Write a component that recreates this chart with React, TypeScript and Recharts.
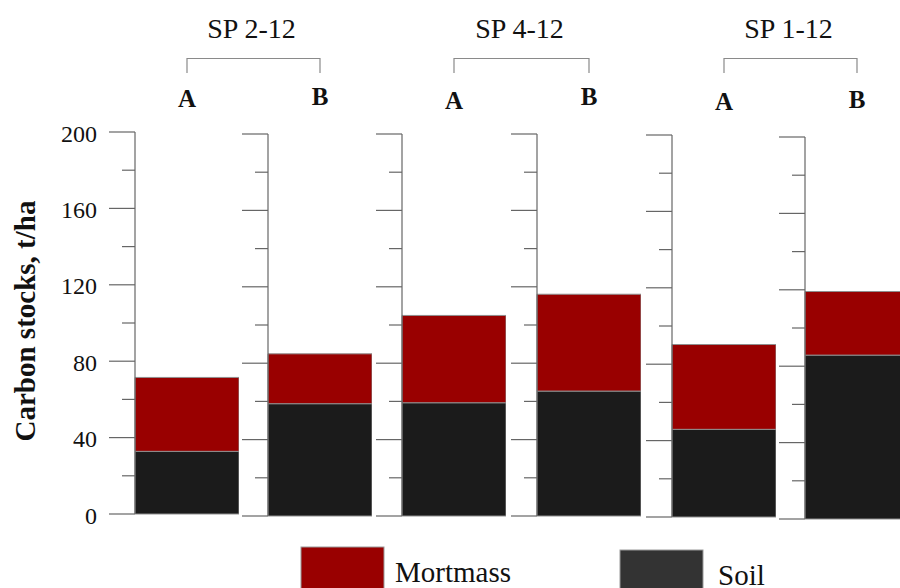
import React from 'react';
import { BarChart, Bar, XAxis, YAxis, Label } from 'recharts';

// Carbon stocks (t/ha) per sample plot, split into soil and mortmass
const siteNames = ['SP 2-12', 'SP 4-12', 'SP 1-12'];
const plotNames = ['A', 'B', 'A', 'B', 'A', 'B'];
const soilValues = [32.8, 58.8, 59.3, 65.4, 45.9, 85.8];
const mortmassValues = [38.7, 26.1, 45.7, 50.7, 44.4, 33.3];

const yTicks = [0, 20, 40, 60, 80, 100, 120, 140, 160, 180, 200];
const yLabelledTicks = [0, 40, 80, 120, 160, 200];
const yAxisTitle = 'Carbon stocks, t/ha';

const SERIES = [
  { key: 'soil', name: 'Soil', fill: '#1b1b1b', swatch: '#333333' },
  { key: 'mortmass', name: 'Mortmass', fill: '#990000', swatch: '#990000' },
];

// Panel layout: each bar gets its own small axis
const PANEL_X = [135, 268, 402, 537, 672, 805]; // x of each panel's axis line
const PANEL_TOP = [132, 134, 134, 134, 135, 137]; // y of each panel's 200 line
const PLOT_H = 382;
const BAR_W = 104;
const HEAD_H = 60;
const FOOT_H = 16;
const FONT = '"Liberation Serif", "Times New Roman", serif';
const AXIS_COLOR = '#666666';

// Legend layout (order as drawn: Mortmass, then Soil)
const LEGEND_ITEMS = [
  { key: 'mortmass', x: 301, y: 547, textX: 395, textY: 582 },
  { key: 'soil', x: 620, y: 550, textX: 718, textY: 585 },
];

function makeTick(withLabel: boolean) {
  return (props: any) => {
    const { x, y, payload } = props;
    const major = yLabelledTicks.includes(payload.value);
    const len = major ? 26 : 13;
    return (
      <g>
        <line x1={x - len} y1={y} x2={x} y2={y} stroke={AXIS_COLOR} strokeWidth={1.2} />
        {withLabel && major && (
          <text
            x={x - 38}
            y={y}
            dy="0.4em"
            textAnchor="end"
            fontFamily={FONT}
            fontSize={24}
            fill="#111"
          >
            {payload.value}
          </text>
        )}
      </g>
    );
  };
}

function YTitle(props: any) {
  const vb = props.viewBox || { x: 0, y: HEAD_H, width: 135, height: PLOT_H };
  const cx = vb.x + 25;
  const cy = vb.y + vb.height / 2 - 2;
  return (
    <text
      x={cx}
      y={cy}
      transform={`rotate(-90, ${cx}, ${cy})`}
      textAnchor="middle"
      dominantBaseline="central"
      fontFamily={FONT}
      fontWeight="bold"
      fontSize={29}
      fill="#111"
    >
      {yAxisTitle}
    </text>
  );
}

function Panel({ index }: { index: number }) {
  const first = index === 0;
  const yAxisW = first ? PANEL_X[0] : 30;
  const left = PANEL_X[index] - yAxisW;
  const top = PANEL_TOP[index] - HEAD_H;
  const data = [
    {
      plot: plotNames[index],
      soil: soilValues[index],
      mortmass: mortmassValues[index],
    },
  ];
  return (
    <div style={{ position: 'absolute', left, top }}>
      <BarChart
        width={yAxisW + BAR_W}
        height={HEAD_H + PLOT_H + FOOT_H}
        data={data}
        margin={{ top: 0, right: 0, bottom: FOOT_H, left: 0 }}
        barCategoryGap={0}
        barGap={0}
      >
        <XAxis
          dataKey="plot"
          orientation="top"
          height={HEAD_H}
          axisLine={false}
          tickLine={false}
          tickSize={0}
          tickMargin={index % 2 === 0 ? 25 : 29}
          tick={{ fontFamily: FONT, fontWeight: 'bold', fontSize: 25, fill: '#111' }}
        />
        <YAxis
          domain={[0, 200]}
          ticks={yTicks}
          interval={0}
          width={yAxisW}
          axisLine={{ stroke: AXIS_COLOR, strokeWidth: 1.2 }}
          tickLine={false}
          tickSize={0}
          tickMargin={0}
          tick={makeTick(first)}
        >
          {first && <Label content={YTitle} />}
        </YAxis>
        {SERIES.map((s) => (
          <Bar
            key={s.key}
            dataKey={s.key}
            name={s.name}
            stackId="carbon"
            fill={s.fill}
            stroke="#8f8f8f"
            strokeWidth={1}
            isAnimationActive={false}
          />
        ))}
      </BarChart>
    </div>
  );
}

function Header() {
  return (
    <svg
      width={900}
      height={80}
      style={{ position: 'absolute', left: 0, top: 0, pointerEvents: 'none' }}
    >
      {siteNames.map((name, g) => {
        const ax = PANEL_X[2 * g] + BAR_W / 2;
        const bx = PANEL_X[2 * g + 1] + BAR_W / 2;
        return (
          <g key={name}>
            <text
              x={(ax + bx) / 2 - 2}
              y={38}
              textAnchor="middle"
              fontFamily={FONT}
              fontSize={28}
              fill="#111"
            >
              {name}
            </text>
            <path
              d={`M${ax},73 V58.5 H${bx} V73`}
              fill="none"
              stroke="#8a8a8a"
              strokeWidth={1.2}
            />
          </g>
        );
      })}
    </svg>
  );
}

function LegendBlock() {
  return (
    <svg
      width={900}
      height={588}
      style={{ position: 'absolute', left: 0, top: 0, pointerEvents: 'none' }}
    >
      {LEGEND_ITEMS.map((item) => {
        const s = SERIES.find((d) => d.key === item.key)!;
        return (
          <g key={item.key}>
            <rect
              x={item.x}
              y={item.y}
              width={83}
              height={60}
              fill={s.swatch}
              stroke="#9a9a9a"
              strokeWidth={1}
            />
            <text x={item.textX} y={item.textY} fontFamily={FONT} fontSize={29} fill="#111">
              {s.name}
            </text>
          </g>
        );
      })}
    </svg>
  );
}

export default function App() {
  return (
    <div
      style={{
        position: 'absolute',
        left: 0,
        top: 0,
        width: 900,
        height: 588,
        overflow: 'hidden',
        background: '#ffffff',
      }}
    >
      {plotNames.map((_, i) => (
        <Panel key={i} index={i} />
      ))}
      <Header />
      <LegendBlock />
    </div>
  );
}
